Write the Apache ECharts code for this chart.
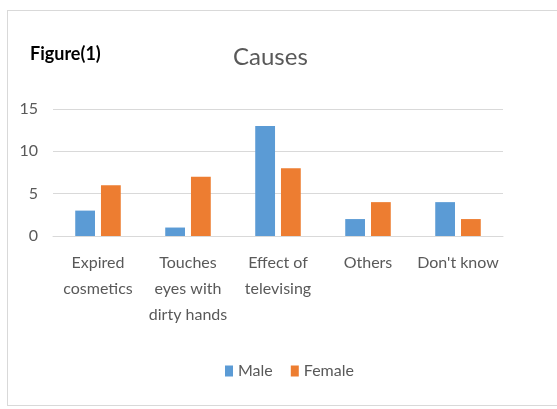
<!DOCTYPE html>
<html>
<head>
<meta charset="utf-8">
<script src="https://cdn.jsdelivr.net/npm/echarts@6/dist/echarts.min.js"></script>
<style>
  html, body { margin: 0; padding: 0; background: #fff; }
  #frame { position: absolute; left: 7px; top: 10px; width: 560px; height: 396px; border: 1px solid #d9d9d9; box-sizing: border-box; }
  #chart { position: absolute; left: 0; top: 0; width: 557px; height: 409px; }
</style>
</head>
<body>
<div id="frame"></div>
<div id="chart"></div>
<script>
// chart data
const categories = ['Expired\ncosmetics', 'Touches\neyes with\ndirty hands', 'Effect of\ntelevising', 'Others', "Don't know"]
const male = [3, 1, 13, 2, 4]
const female = [6, 7, 8, 4, 2]
const yTicks = { min: 0, max: 15, interval: 5 }

const font = 'Lato, "Open Sans", sans-serif'
const myChart = echarts.init(document.getElementById('chart'))
const option = {
  animation: false,
  textStyle: { fontFamily: font },
  title: [
    {
      text: 'Figure(1)',
      left: 30, top: 45, padding: 0,
      textStyle: { fontSize: 18, fontWeight: 'bold', color: '#000', fontFamily: font }
    },
    {
      text: 'Causes',
      left: 233, top: 45, padding: 0,
      textStyle: { fontSize: 24, fontWeight: 'normal', color: '#595959', fontFamily: font }
    }
  ],
  legend: {
    top: 358,
    left: 220,
    itemWidth: 8,
    itemHeight: 11,
    itemGap: 18,
    icon: 'rect',
    textStyle: { fontSize: 16, color: '#595959', fontFamily: font },
    data: ['Male', 'Female']
  },
  grid: { left: 53, right: 54, top: 109, bottom: 173 },
  xAxis: {
    type: 'category',
    data: categories,
    axisLine: { lineStyle: { color: '#d9d9d9' } },
    axisTick: { show: false },
    axisLabel: { color: '#595959', fontSize: 16, lineHeight: 26, margin: 14, interval: 0 }
  },
  yAxis: {
    type: 'value',
    min: yTicks.min, max: yTicks.max, interval: yTicks.interval,
    axisLine: { show: false },
    axisTick: { show: false },
    splitLine: { lineStyle: { color: '#d9d9d9' } },
    axisLabel: { color: '#595959', fontSize: 16, margin: 15 }
  },
  series: [
    {
      name: 'Male', type: 'bar', data: male,
      barWidth: '22%', barGap: '30%',
      itemStyle: { color: '#5b9bd5' }
    },
    {
      name: 'Female', type: 'bar', data: female,
      barWidth: '22%', barGap: '30%',
      itemStyle: { color: '#ed7d31' }
    }
  ]
}
myChart.setOption(option)
</script>
</body>
</html>
